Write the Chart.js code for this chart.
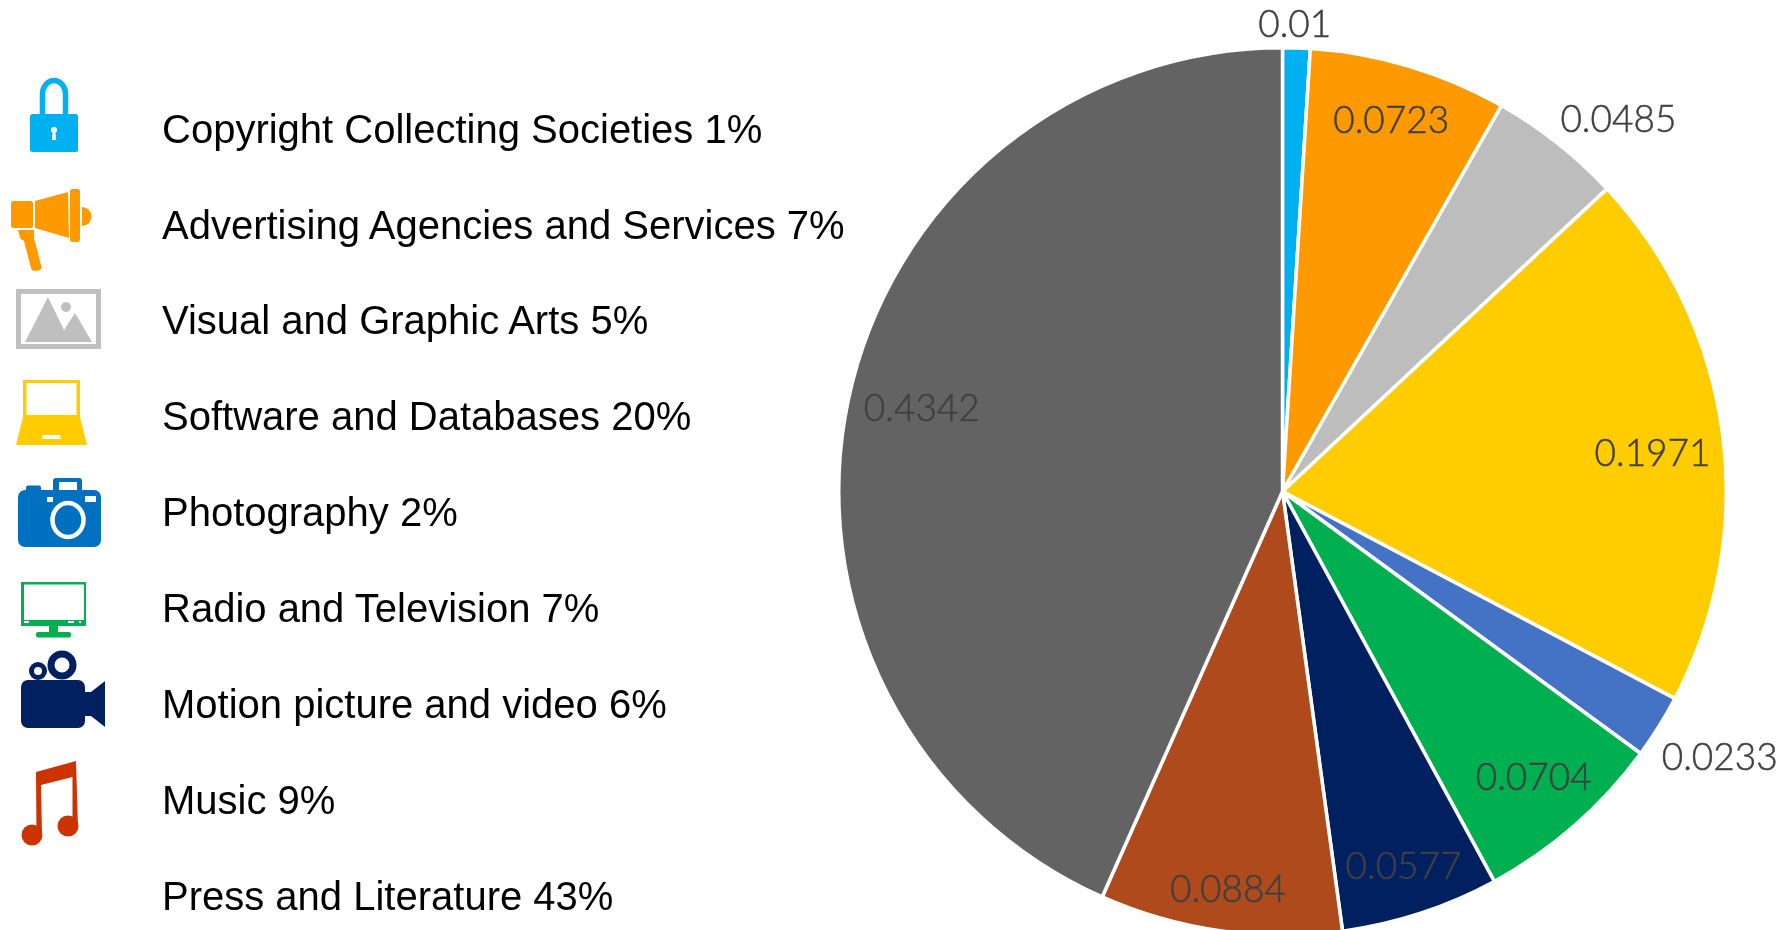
<!DOCTYPE html>
<html>
<head>
<meta charset="utf-8">
<title>Works by sector</title>
<script src="https://cdn.jsdelivr.net/npm/chart.js@4/dist/chart.umd.min.js"></script>
<style>
    html, body { margin: 0; padding: 0; background: #fff; overflow: hidden; }
    #wrap { position: relative; width: 1786px; height: 930px; overflow: hidden; }
    #pie { position: absolute; left: 0; top: 0; }
    #icons { position: absolute; left: 0; top: 0; }
    .row {
        position: absolute;
        left: 162px;
        font-family: "Liberation Sans", Arial, sans-serif;
        font-size: 40px;
        line-height: 46px;
        color: #000;
        white-space: nowrap;
    }
</style>
</head>
<body>
<div id="wrap">
    <canvas id="pie" width="1786" height="937"></canvas>
    <svg id="icons" width="1786" height="930" xmlns="http://www.w3.org/2000/svg">
        <!-- candado -->
        <g fill="#00B0F0">
            <rect x="30" y="114" width="48" height="38" rx="2.5"/>
            <path d="M42.5 116V94a11.5 13.5 0 0 1 23 0V116" fill="none" stroke="#00B0F0" stroke-width="5.5"/>
            <circle cx="54" cy="130" r="3" fill="#fff"/>
            <path d="M52.8 131h2.4l1 9h-4.4z" fill="#fff"/>
        </g>
        <!-- megafono -->
        <g fill="#FF9900">
            <rect x="11" y="201" width="22" height="27" rx="2.5"/>
            <path d="M35 201L68 192L69 238L35 228z"/>
            <rect x="70" y="189" width="10" height="53" rx="2.5"/>
            <path d="M82 207a9.5 9.5 0 0 1 0 19z"/>
            <path d="M18 230H34V238L41 265a3.5 3.5 0 0 1 -3 5.5L34 271a3.5 3.5 0 0 1 -3 -3L24 241L20.500 239z"/>
        </g>
        <!-- imagen -->
        <g fill="#BFBFBF">
            <path fill-rule="evenodd" d="M16 289H101V349H16zM21 294V344H96V294z"/>
            <path d="M25 342L48 297L64 330L75 313L92 342z"/>
            <circle cx="66" cy="307" r="5"/>
        </g>
        <!-- portatil -->
        <g fill="#FFCC00">
            <path fill-rule="evenodd" d="M23 380H80V417H23zM26.500 383V415H76.500V383z"/>
            <path fill-rule="evenodd" d="M23 417H80L87 445H16zM43 435L42 439H61L60 435z"/>
        </g>
        <!-- camara -->
        <g fill="#0070C0">
            <rect x="18" y="490" width="83" height="57" rx="7"/>
            <rect x="26" y="485.500" width="15" height="6" rx="2"/>
            <path fill-rule="evenodd" d="M53 481a3 3 0 0 1 3 -3H79a3 3 0 0 1 3 3V491H53zM59 482V491H77V482z"/>
            <rect x="47" y="497" width="6" height="5" fill="#fff"/>
            <rect x="85" y="496" width="11" height="6" fill="#fff"/>
            <ellipse cx="68" cy="520" rx="15.500" ry="17" fill="none" stroke="#fff" stroke-width="4.500"/>
        </g>
        <!-- monitor -->
        <g fill="#00B050">
            <path fill-rule="evenodd" d="M21 582H86V626H21zM24 584.500V620H84V584.500z"/>
            <rect x="24" y="621" width="5" height="2" fill="#fff"/>
            <rect x="68" y="621" width="6" height="2" fill="#fff"/>
            <rect x="79" y="621" width="2" height="2" fill="#fff"/>
            <rect x="49" y="626" width="9" height="7"/>
            <rect x="36" y="632" width="35" height="5.500" rx="2"/>
        </g>
        <!-- camara de video -->
        <g fill="#002060">
            <rect x="21" y="680" width="64" height="48" rx="7"/>
            <path d="M85 692H91L105 681V727L91 716H85z"/>
            <circle cx="62" cy="665" r="11" fill="none" stroke="#002060" stroke-width="7"/>
            <circle cx="38" cy="671" r="6.500" fill="none" stroke="#002060" stroke-width="5"/>
        </g>
        <!-- notas -->
        <g fill="#CC3300">
            <path d="M36 772L76 761L78 827H72.500L72.500 777L41 785L42 836H36.500z"/>
            <circle cx="32" cy="835" r="10.500"/>
            <circle cx="68" cy="826" r="10.500"/>
        </g>
    </svg>
    <div id="rows"></div>
</div>

<script>
// Sectores y porcentajes de la lista
const categories = [
    'Copyright Collecting Societies',
    'Advertising Agencies and Services',
    'Visual and Graphic Arts',
    'Software and Databases',
    'Photography',
    'Radio and Television',
    'Motion picture and video',
    'Music',
    'Press and Literature'
];
const percents = [1, 7, 5, 20, 2, 7, 6, 9, 43];

// Valores de cada sector del pastel
const shares = [0.01, 0.0723, 0.0485, 0.1971, 0.0233, 0.0704, 0.0577, 0.0884, 0.4342];
const shareLabels = ['0.01', '0.0723', '0.0485', '0.1971', '0.0233', '0.0704', '0.0577', '0.0884', '0.4342'];
const sliceColors = ['#00B0F0', '#FF9900', '#BDBDBD', '#FFCC00', '#4472C4', '#00B050', '#002060', '#AE4A1B', '#636363'];

// Distancia de cada etiqueta al centro (fraccion del radio) y giro en grados
const labelRadius = [1.052, 0.871, 1.128, 0.838, 1.154, 0.858, 0.89, 0.906, 0.834];
const labelTurn = [-0.3, -0.25, 3.86, 1.85, -0.63, -0.11, 0.3, -0.3, 0.95];

// Lista de la izquierda
const rows = document.getElementById('rows');
categories.forEach((name, i) => {
    const row = document.createElement('div');
    row.className = 'row';
    row.style.top = (105.6 + i * 95.9) + 'px';
    row.textContent = `${name} ${percents[i]}%`;
    rows.appendChild(row);
});

// Escribe el valor de cada sector sobre el arco
const sliceValues = {
    id: 'sliceValues',
    afterDatasetsDraw(c) {
        const ctx = c.ctx;
        ctx.save();
        ctx.font = '300 37px Lato, sans-serif';
        ctx.fillStyle = '#404040';
        ctx.strokeStyle = '#404040';
        ctx.lineWidth = 0.5;
        ctx.textAlign = 'center';
        ctx.textBaseline = 'middle';
        c.getDatasetMeta(0).data.forEach((arc, i) => {
            const mid = (arc.startAngle + arc.endAngle) / 2 + labelTurn[i] * Math.PI / 180;
            const dist = arc.outerRadius * labelRadius[i];
            const x = arc.x + Math.cos(mid) * dist;
            const y = arc.y + Math.sin(mid) * dist;
            ctx.fillText(shareLabels[i], x, y);
            ctx.strokeText(shareLabels[i], x, y);
        });
        ctx.restore();
    }
};

const chart = new Chart(document.getElementById('pie').getContext('2d'), {
    type: 'pie',
    data: {
        labels: categories,
        datasets: [{
            data: shares,
            backgroundColor: sliceColors,
            borderColor: '#ffffff',
            borderWidth: 3.5
        }]
    },
    options: {
        responsive: false,
        animation: false,
        layout: { padding: { left: 837, right: 58, top: 46, bottom: 0 } },
        plugins: {
            legend: { display: false },
            tooltip: { enabled: false }
        }
    },
    plugins: [sliceValues]
});
</script>
</body>
</html>
